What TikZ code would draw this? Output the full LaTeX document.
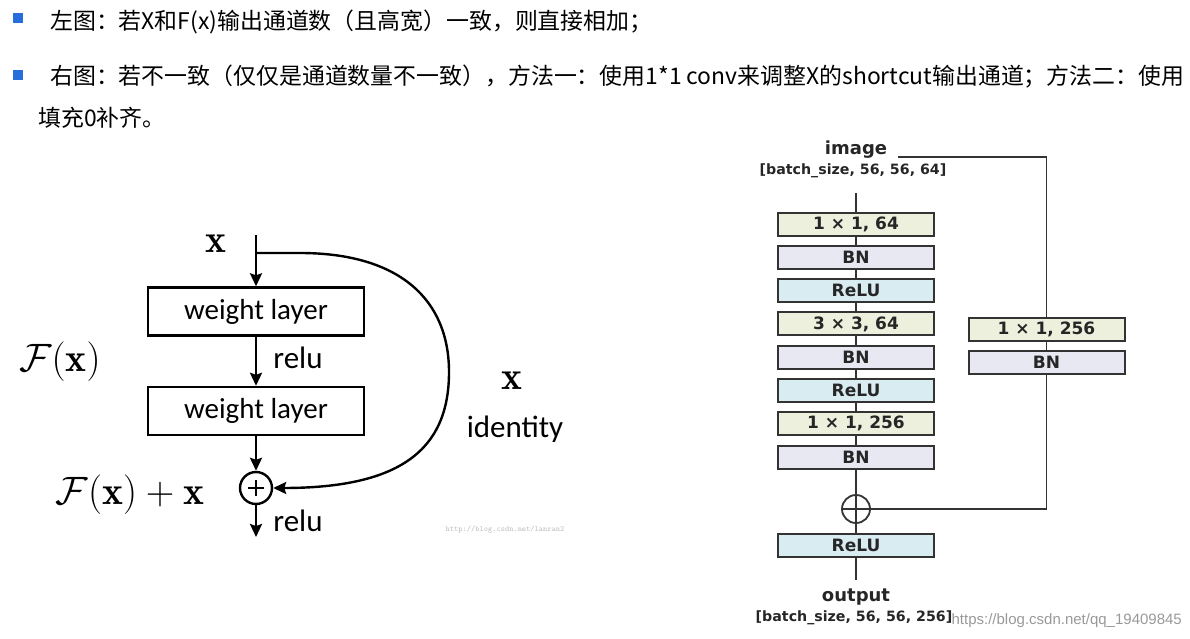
\RequirePackage{fix-cm}
\documentclass[tikz,border=0pt]{standalone}
\usepackage{fontspec}
\usepackage{amsmath,amssymb}
\usepackage{xcolor}
\usepackage{tikz}
\usetikzlibrary{arrows.meta, positioning, calc}
\newfontfamily\cjk{Noto Sans CJK SC}
\newfontfamily\wfont{Carlito}
\newfontfamily\dfont{DejaVu Sans}
\newfontfamily\afont{Liberation Sans}
\definecolor{convfill}{RGB}{238,240,222}
\definecolor{bnfill}{RGB}{232,232,242}
\definecolor{relufill}{RGB}{217,236,241}
\definecolor{dline}{RGB}{51,51,51}
\definecolor{bulblue}{RGB}{38,110,220}
\newcommand{\mbig}[1]{\scalebox{1.32}{$#1$}}

\begin{document}
\begin{tikzpicture}[x=1pt, y=-1pt,
    node distance=8.3pt,
    top/.style={inner sep=0pt, anchor=west, font=\cjk\fontsize{22.9}{24}\selectfont},
    bul/.style={fill=bulblue, minimum size=10pt, inner sep=0pt},
    wl/.style={draw, line width=2.4pt, minimum width=216pt, minimum height=48pt, inner sep=0pt, font=\wfont\fontsize{29}{31}\selectfont},
    lbl/.style={inner sep=0pt, font=\wfont\fontsize{31}{33}\selectfont},
    mth/.style={inner sep=0pt, font=\fontsize{30}{32}\selectfont},
    flow/.style={line width=2.4pt, -{Stealth[length=13pt, width=12pt, inset=2pt]}},
    plus/.style={draw, circle, line width=2.4pt, minimum size=32pt, inner sep=0pt,
      path picture={\draw[line width=2.2pt] ([xshift=-8pt]path picture bounding box.center) -- ([xshift=8pt]path picture bounding box.center)
        ([yshift=-8pt]path picture bounding box.center) -- ([yshift=8pt]path picture bounding box.center);}},
    blk/.style={draw=dline, line width=2pt, minimum width=156pt, minimum height=23pt, inner sep=0pt, font=\dfont\bfseries\fontsize{17}{19}\selectfont, text=black!85},
    conv/.style={blk, fill=convfill},
    bn/.style={blk, fill=bnfill},
    act/.style={blk, fill=relufill},
    wire/.style={draw=dline, line width=1.8pt},
    sum/.style={draw=dline, circle, line width=1.8pt, minimum size=28pt, inner sep=0pt,
      path picture={\draw[dline, line width=1.6pt] (path picture bounding box.north) -- (path picture bounding box.south)
        (path picture bounding box.west) -- (path picture bounding box.east);}},
    hd/.style={inner sep=0pt, font=\dfont\bfseries\fontsize{18}{20}\selectfont, text=black!85},
    dim/.style={inner sep=0pt, font=\dfont\bfseries\fontsize{14.2}{16}\selectfont, text=black!85},
    wmark/.style={inner sep=0pt, text=black!25}]
  \useasboundingbox (0,0) rectangle (1190,639);

  % notes on top
  \node[bul] (b1) at (18,18) {};
  \node[bul] (b2) at (18,75) {};
  \node[top] (t1) at (50,22) {左图：若X和F(x)输出通道数（且高宽）一致，则直接相加；};
  \node[top] (t2) at (50,77) {右图：若不一致（仅仅是通道数量不一致），方法一：使用1*1 conv来调整X的shortcut输出通道；方法二：使用};
  \node[top] (t3) at (38,118) {填充0补齐。};

  % left: residual block
  \coordinate (xin) at (256,235);
  \coordinate (br) at (256,253);
  \node[mth] (xlab) at (216,244) {\mbig{\mathbf{x}}};
  \node[wl] (wl1) at (256,311.5) {weight layer};
  \node[wl] (wl2) at (256,411) {weight layer};
  \node[plus] (add) at (256,488) {};
  \coordinate (yout) at (256,537);
  \draw[flow] (xin) -- (wl1);
  \draw[flow] (wl1) -- (wl2);
  \draw[flow] (wl2) -- (add);
  \draw[flow] (add) -- (yout);
  \draw[flow] (br) -- (300,253) .. controls (400,253) and (449,300) .. (449,372)
    .. controls (449,450) and (400,488) .. (add.east);
  \node[lbl] (r1) at (298,358) {relu};
  \node[lbl] (r2) at (298,521) {relu};
  \node[mth] (fx) at (60,362) {\mbig{\mathcal{F}(\mathbf{x})}};
  \node[mth] (fxx) at (130,495) {\mbig{\mathcal{F}(\mathbf{x})+\mathbf{x}}};
  \node[mth] (xid) at (512,381) {\mbig{\mathbf{x}}};
  \node[lbl] (idt) at (515,429) {identity};
  \node[wmark, font=\ttfamily\fontsize{8}{9}\selectfont] (wm1) at (505,530) {http://blog.csdn.net/lanran2};

  % right: bottleneck with 1x1 projection
  \node[hd] (img) at (856,150) {image};
  \node[dim] (din) at (853,171) {[batch\_size, 56, 56, 64]};
  \coordinate (tin) at (856,193);
  \node[conv] (c1) at (856,224) {1 × 1, 64};
  \node[bn, below=of c1] (c2) {BN};
  \node[act, below=of c2] (c3) {ReLU};
  \node[conv, below=of c3] (c4) {3 × 3, 64};
  \node[bn, below=of c4] (c5) {BN};
  \node[act, below=of c5] (c6) {ReLU};
  \node[conv, below=of c6] (c7) {1 × 1, 256};
  \node[bn, below=of c7] (c8) {BN};
  \node[sum] (add2) at (856,509) {};
  \node[act] (c9) at (856,545.5) {ReLU};
  \coordinate (tout) at (856,580);
  \node[hd] (out) at (856,597) {output};
  \node[dim] (dout) at (854,618) {[batch\_size, 56, 56, 256]};
  \node[conv] (s1) at (1046.5,329.5) {1 × 1, 256};
  \node[bn, below=of s1] (s2) {BN};
  \coordinate (sc) at (898,157);

  \draw[wire] (tin) -- (c1);
  \foreach \a/\b in {c1/c2, c2/c3, c3/c4, c4/c5, c5/c6, c6/c7, c7/c8, c8/add2, add2/c9, s1/s2}
    \draw[wire] (\a) -- (\b);
  \draw[wire] (c9) -- (tout);
  \draw[wire] (sc) -| (s1);
  \draw[wire] (s2) |- (add2);
  \node[wmark, font=\afont\fontsize{15}{17}\selectfont, text=black!40, anchor=east] (wm2) at (1182,621) {https://blog.csdn.net/qq\_19409845};
\end{tikzpicture}
\end{document}
